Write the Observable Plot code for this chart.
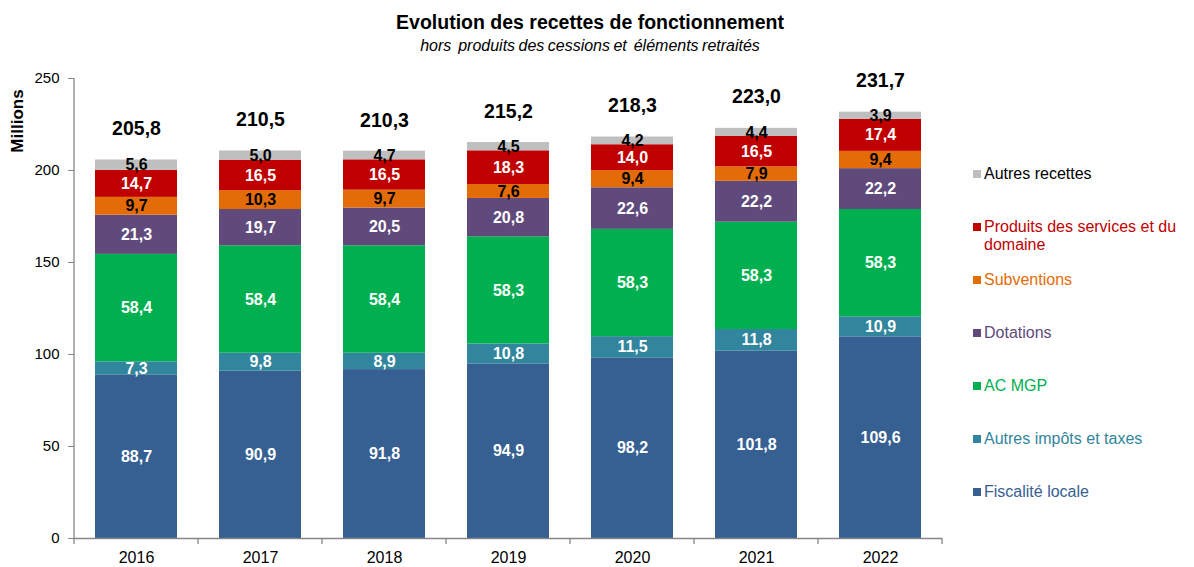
<!DOCTYPE html>
<html><head><meta charset="utf-8">
<script src="https://cdn.jsdelivr.net/npm/d3@7"></script>
<script src="https://cdn.jsdelivr.net/npm/@observablehq/plot@0.6"></script>
<style>
body{margin:0;background:#fff;font-family:"Liberation Sans",Arial,sans-serif;color:#000;}
#wrap{position:relative;width:1194px;height:567px;overflow:hidden;}
#title{position:absolute;left:0;width:1180px;top:11px;text-align:center;font-weight:bold;font-size:19.5px;}
#subtitle{position:absolute;left:0;width:1180px;top:37px;text-align:center;font-style:italic;font-size:16px;word-spacing:-1px;white-space:pre;}
#chart{position:absolute;left:0;top:60px;}
#ylab{position:absolute;z-index:2;left:18px;top:121px;transform:translate(-50%,-50%) rotate(-90deg);font-weight:bold;font-size:17px;white-space:nowrap;}
#legend{position:absolute;z-index:2;left:973px;top:165px;font-size:16px;}
.li{position:relative;height:53px;padding-left:11px;line-height:18px;}
.sw{position:absolute;left:0;top:5px;width:8px;height:8px;}
</style></head><body>
<div id="wrap">
<div id="chart"></div>
<div id="title">Evolution des recettes de fonctionnement</div>
<div id="subtitle">hors  produits des cessions et  éléments retraités</div>
<div id="ylab">Millions</div>
<div id="legend"></div>
</div>
<script>
const years = ["2016","2017","2018","2019","2020","2021","2022"];
const fiscaliteLocale = [88.7, 90.9, 91.8, 94.9, 98.2, 101.8, 109.6];
const autresImpots   = [7.3, 9.8, 8.9, 10.8, 11.5, 11.8, 10.9];
const acMgp          = [58.4, 58.4, 58.4, 58.3, 58.3, 58.3, 58.3];
const dotations      = [21.3, 19.7, 20.5, 20.8, 22.6, 22.2, 22.2];
const subventions    = [9.7, 10.3, 9.7, 7.6, 9.4, 7.9, 9.4];
const produits       = [14.7, 16.5, 16.5, 18.3, 14.0, 16.5, 17.4];
const autresRecettes = [5.6, 5.0, 4.7, 4.5, 4.2, 4.4, 3.9];
const totals         = [205.8, 210.5, 210.3, 215.2, 218.3, 223.0, 231.7];
const yTicks = [0, 50, 100, 150, 200, 250];

const seriesNames = ["Fiscalité locale","Autres impôts et taxes","AC MGP","Dotations","Subventions","Produits des services et du domaine","Autres recettes"];
const seriesValues = [fiscaliteLocale, autresImpots, acMgp, dotations, subventions, produits, autresRecettes];
const seriesColors = ["#376092","#31859C","#00B050","#604A7B","#E36C09","#C00000","#BFBFBF"];
const labelColors  = ["#fff","#fff","#fff","#fff","#000","#fff","#000"];
const legendTextColors = ["#376092","#31859C","#00B050","#604A7B","#E36C09","#C00000","#000"];

const fmt = v => v.toFixed(1).replace(".", ",");

const rows = [];
years.forEach((yr, i) => seriesNames.forEach((s, j) => rows.push({year: yr, series: s, value: seriesValues[j][i], j})));
const totalRows = years.map((yr, i) => ({year: yr, total: totals[i]}));

const font = "Liberation Sans, Arial, sans-serif";
const chart = Plot.plot({
  width: 1194, height: 507,
  marginLeft: 74, marginRight: 252, marginTop: 18, marginBottom: 29,
  style: {fontFamily: font, fontSize: "15px", color: "#000", background: "#fff"},
  x: {domain: years, paddingInner: 0.34, paddingOuter: 0.17, label: null},
  y: {domain: [0, 250], label: null},
  color: {domain: seriesNames, range: seriesColors},
  marks: [
    Plot.barY(rows, {x: "year", y: "value", fill: "series", z: "series"}),
    Plot.text(rows, Plot.stackY({x: "year", y: "value", z: "series",
      text: d => fmt(d.value), fill: d => labelColors[d.j], fontWeight: "bold", fontSize: 16})),
    Plot.text(totalRows, {x: "year", y: "total", text: d => fmt(d.total), dy: -31, fontWeight: "bold", fontSize: 19.5}),
    Plot.ruleY([0], {stroke: "#868686", strokeWidth: 1.3}),
    Plot.axisY({ticks: yTicks, tickSize: 6, tickPadding: 9, fontSize: 15, stroke: "#868686", tickFormat: d => String(d), label: null}),
    Plot.axisX({tickSize: 0, tickPadding: 13, fontSize: 16, label: null})
  ]
});
document.getElementById("chart").appendChild(chart);

// axis line on the left and category boundary ticks, from the scales
const xs = chart.scale("x"), ys = chart.scale("y");
const step = xs.step, bw = xs.bandwidth;
const svg = d3.select(chart);
const left = xs.apply(years[0]) - (step - bw) / 2;
svg.append("line").attr("x1", left).attr("x2", left)
  .attr("y1", ys.apply(0)).attr("y2", ys.apply(250))
  .attr("stroke", "#868686").attr("stroke-width", 1.3);
const bounds = years.map(yr => xs.apply(yr) - (step - bw) / 2).concat([xs.apply(years[years.length-1]) + bw + (step - bw) / 2]);
bounds.forEach(b => svg.append("line").attr("x1", b).attr("x2", b)
  .attr("y1", ys.apply(0)).attr("y2", ys.apply(0) + 6)
  .attr("stroke", "#868686").attr("stroke-width", 1.3));

// legend
const lg = document.getElementById("legend");
for (let j = seriesNames.length - 1; j >= 0; j--) {
  const it = document.createElement("div");
  it.className = "li";
  it.style.color = legendTextColors[j];
  const sw = document.createElement("div");
  sw.className = "sw"; sw.style.background = seriesColors[j];
  it.appendChild(sw);
  const label = seriesNames[j] === "Produits des services et du domaine" ? "Produits des services et du<br>domaine" : seriesNames[j];
  const sp = document.createElement("span"); sp.innerHTML = label;
  it.appendChild(sp);
  lg.appendChild(it);
}
</script>
</body></html>
